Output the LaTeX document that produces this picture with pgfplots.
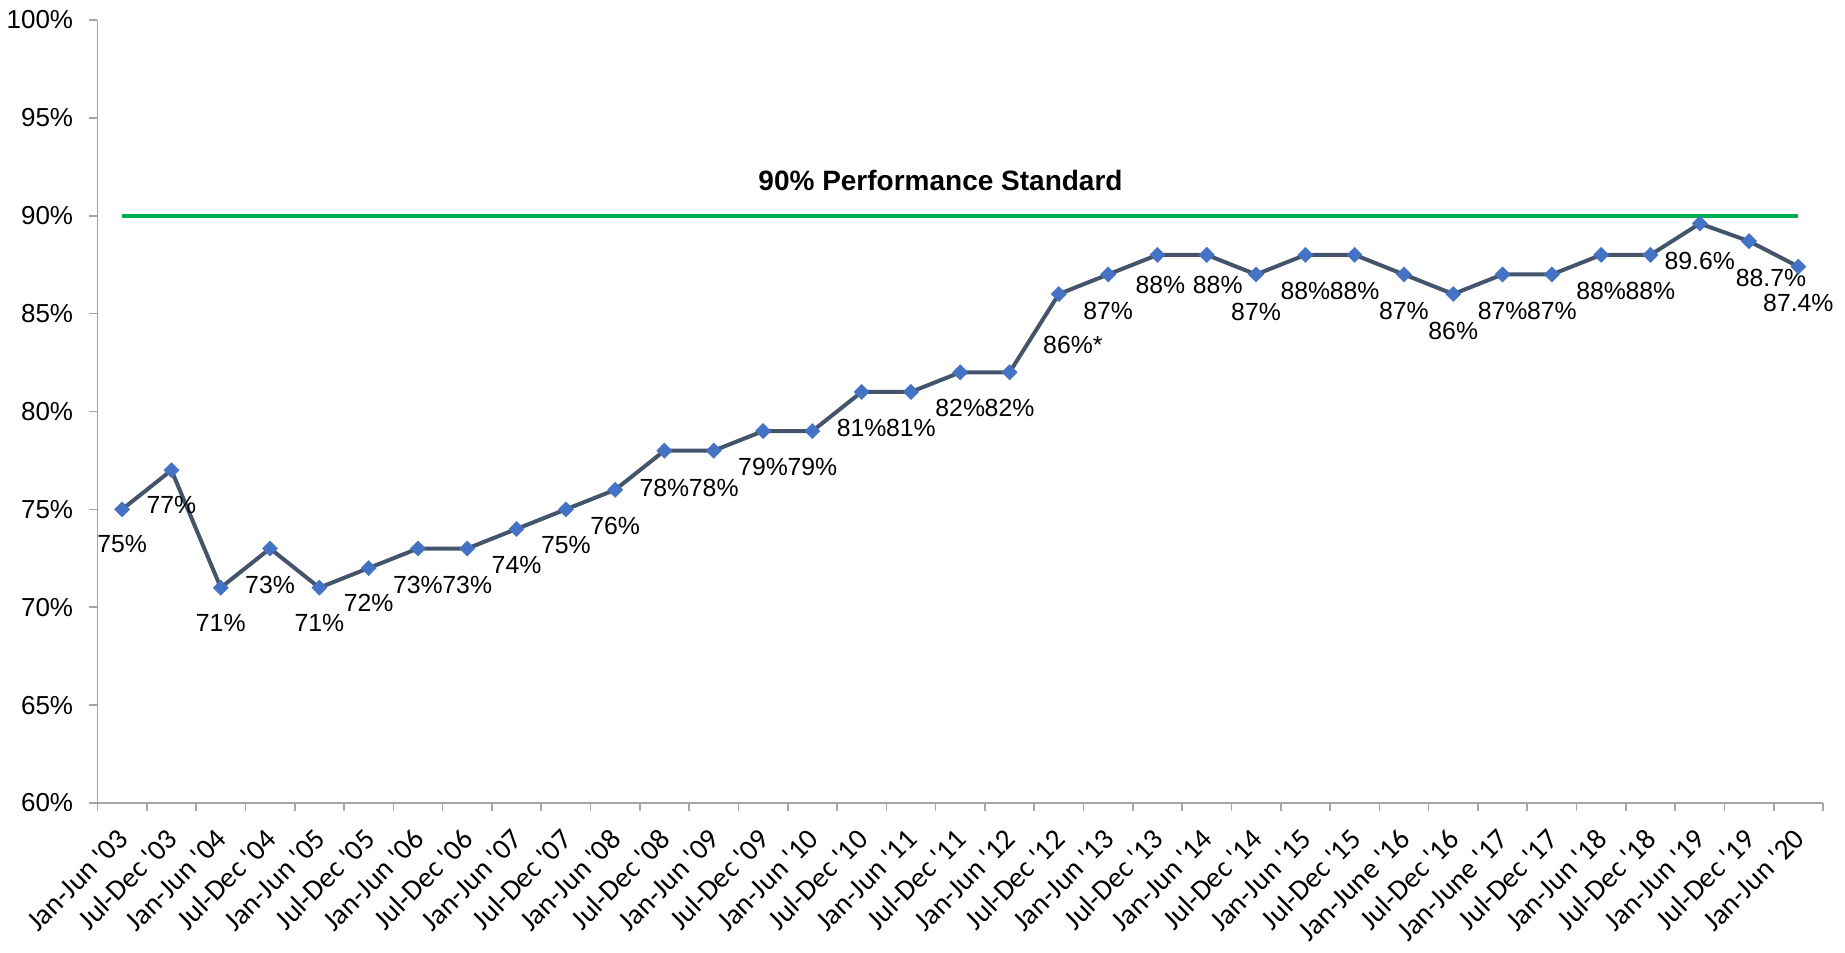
\documentclass[border=0pt]{standalone}
\usepackage{pgfplots}
\pgfplotsset{compat=1.18}
\usepackage{pgfplotstable}
\usepackage{fontspec}
\setmainfont{Liberation Sans}
\newfontfamily\carlito{Carlito}
\definecolor{linecol}{HTML}{44546A}
\definecolor{markcol}{HTML}{4472C4}
\definecolor{stdgreen}{HTML}{00B050}
\definecolor{axisgray}{HTML}{A6A6A6}

\pgfplotstableread{
x y lab dx dy
0 75 75\% 0 -17.5
1 77 77\% 0 -17.5
2 71 71\% 0 -17.5
3 73 73\% 0 -18
4 71 71\% 0 -17.5
5 72 72\% 0 -17.5
6 73 73\% 0 -18
7 73 73\% 0 -18
8 74 74\% 0 -18
9 75 75\% 0 -18
10 76 76\% 0 -18
11 78 78\% 0 -18.5
12 78 78\% 0 -18.5
13 79 79\% 0 -18
14 79 79\% 0 -18
15 81 81\% 0 -18
16 81 81\% 0 -18
17 82 82\% 0 -18
18 82 82\% 0 -18
19 86 86\%* 7 -25.5
20 87 87\% 0 -18
21 88 88\% 1.5 -15
22 88 88\% 5.5 -15
23 87 87\% 0 -18.5
24 88 88\% 0 -18
25 88 88\% 0 -18
26 87 87\% 0 -18
27 86 86\% 0 -18.5
28 87 87\% 0 -18
29 87 87\% 0 -18
30 88 88\% 0 -18
31 88 88\% 0 -18
32 89.6 89.6\% 0 -18.5
33 88.7 88.7\% 11 -18.5
34 87.4 87.4\% 0 -18
}\perftable

\begin{document}
\begin{tikzpicture}
\begin{axis}[
  at={(0,0)}, anchor=south west,
  scale only axis,
  width=862.75pt, height=391.5pt,
  xmin=-0.5, xmax=34.5,
  ymin=60, ymax=100,
  axis x line=bottom, axis y line=left,
  axis line style={-, draw=axisgray, line width=0.8pt},
  clip=false,
  tick align=outside,
  xtick={0,...,34},
  major x tick style={draw=none},
  minor xtick={-0.5,0.5,...,34.5},
  minor tick length=4pt,
  major tick length=4pt,
  every tick/.style={draw=axisgray, line width=0.8pt},
  xticklabels={Jan-Jun '03,Jul-Dec '03,Jan-Jun '04,Jul-Dec '04,Jan-Jun '05,Jul-Dec '05,Jan-Jun '06,Jul-Dec '06,Jan-Jun '07,Jul-Dec '07,Jan-Jun '08,Jul-Dec '08,Jan-Jun '09,Jul-Dec '09,Jan-Jun '10,Jul-Dec '10,Jan-Jun '11,Jul-Dec '11,Jan-Jun '12,Jul-Dec '12,Jan-Jun '13,Jul-Dec '13,Jan-Jun '14,Jul-Dec '14,Jan-Jun '15,Jul-Dec '15,Jan-June '16,Jul-Dec '16,Jan-June '17,Jul-Dec '17,Jan-Jun '18,Jul-Dec '18,Jan-Jun '19,Jul-Dec '19,Jan-Jun '20},
  xticklabel style={font=\carlito\fontsize{14.5}{16}\selectfont, inner sep=0pt, xshift=0.5pt, yshift=-11.5pt, rotate=45, anchor=east},
  ytick={60,65,...,100},
  yticklabels={60\%,65\%,70\%,75\%,80\%,85\%,90\%,95\%,100\%},
  yticklabel style={font=\fontsize{13}{15}\selectfont, inner sep=0pt, anchor=east, xshift=-8pt},
]
\addplot[stdgreen, line width=2pt] coordinates {(0,90) (34,90)};
\addplot[linecol, line width=2pt, mark=square*, mark size=2.7pt,
  mark options={rotate=45, color=markcol, fill=markcol, draw=markcol, line width=0.2pt, solid},
  point meta=explicit symbolic,
  visualization depends on={\thisrow{dx}\as\labdx},
  visualization depends on={\thisrow{dy}\as\labdy},
  nodes near coords={\pgfplotspointmeta},
  nodes near coords align={center},
  every node near coord/.append style={font=\fontsize{12.4}{14}\selectfont, text=black, inner sep=0pt, anchor=center, xshift=\labdx pt, yshift=\labdy pt},
] table[x=x, y=y, meta=lab] {\perftable};
\node[font=\bfseries\fontsize{14}{16}\selectfont, anchor=center] at (axis cs:16.6,91.78) {90\% Performance Standard};
\end{axis}
\pgfresetboundingbox
\path[use as bounding box] (-48.75pt,-74.5pt) rectangle (873.75pt,401.5pt);
\end{tikzpicture}
\end{document}
